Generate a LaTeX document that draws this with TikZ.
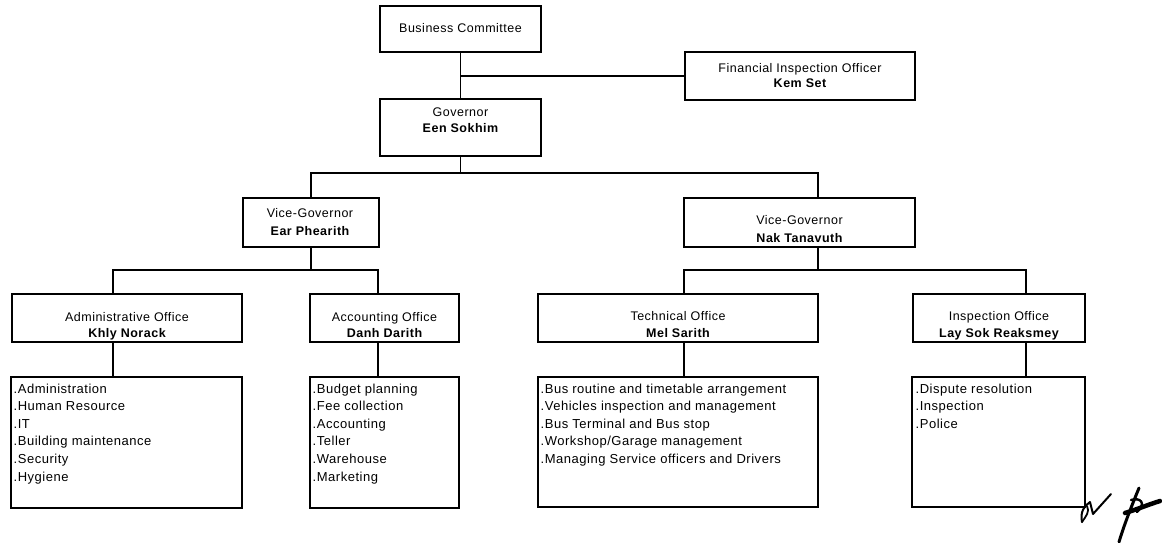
\documentclass[tikz,border=0pt]{standalone}
\usepackage{fontspec}
\setmainfont{Liberation Sans}[LetterSpace=4]
\begin{document}
\begin{tikzpicture}[x=1pt,y=-1pt,line width=1.4pt,
  box/.style={draw,line width=1.4pt,inner sep=0pt,outer sep=0pt,anchor=north west},
  hd/.style={font=\fontsize{12.5}{15}\selectfont,anchor=base,inner sep=0pt},
  nm/.style={font=\fontsize{12.5}{15}\selectfont\bfseries,anchor=base,inner sep=0pt},
  lst/.style={font=\fontsize{13}{17.6}\selectfont,align=left,anchor=north west,inner sep=0pt},
  sig/.style={line width=2.6pt,line cap=round,line join=round}]
\useasboundingbox[fill=white] (0,0) rectangle (1162,542);
% boxes
\node[box,minimum width=161pt,minimum height=46pt] (bc) at (380,6) {};
\node[box,minimum width=230pt,minimum height=48pt] (fin) at (685,52) {};
\node[box,minimum width=161pt,minimum height=57pt] (gov) at (380,99) {};
\node[box,minimum width=136pt,minimum height=49pt] (vg1) at (243,198) {};
\node[box,minimum width=231pt,minimum height=49pt] (vg2) at (684,198) {};
\node[box,minimum width=230pt,minimum height=48pt] (adm) at (12,294) {};
\node[box,minimum width=149pt,minimum height=48pt] (acc) at (310,294) {};
\node[box,minimum width=280pt,minimum height=48pt] (tec) at (538,294) {};
\node[box,minimum width=172pt,minimum height=48pt] (ins) at (913,294) {};
\node[box,minimum width=231pt,minimum height=131pt] (admL) at (11,377) {};
\node[box,minimum width=149pt,minimum height=131pt] (accL) at (310,377) {};
\node[box,minimum width=280pt,minimum height=130pt] (tecL) at (538,377) {};
\node[box,minimum width=173pt,minimum height=130pt] (insL) at (912,377) {};
% header texts
\node[hd] (bc-t) at (460.5,32.5) {Business Committee};
\node[hd] (fin-t) at (800,72.5) {Financial Inspection Officer};
\node[nm] (fin-n) at (800,87.5) {Kem Set};
\node[hd] (gov-t) at (460.5,116.5) {Governor};
\node[nm] (gov-n) at (460.5,132.5) {Een Sokhim};
\node[hd] (vg1-t) at (310,217.5) {Vice-Governor};
\node[nm] (vg1-n) at (310,235.5) {Ear Phearith};
\node[hd] (vg2-t) at (799.5,224.5) {Vice-Governor};
\node[nm] (vg2-n) at (799.5,242.5) {Nak Tanavuth};
\node[hd] (adm-t) at (127,321.5) {Administrative Office};
\node[nm] (adm-n) at (127,337.5) {Khly Norack};
\node[hd] (acc-t) at (384.5,321.5) {Accounting Office};
\node[nm] (acc-n) at (384.5,337.5) {Danh Darith};
\node[hd] (tec-t) at (678,320.5) {Technical Office};
\node[nm] (tec-n) at (678,337.5) {Mel Sarith};
\node[hd] (ins-t) at (999,320.5) {Inspection Office};
\node[nm] (ins-n) at (999,337.5) {Lay Sok Reaksmey};
% lists
\node[lst] (admL-t) at (13,383) {.Administration\\.Human Resource\\.IT\\.Building maintenance\\.Security\\.Hygiene};
\node[lst] (accL-t) at (312,383) {.Budget planning\\.Fee collection\\.Accounting\\.Teller\\.Warehouse\\.Marketing};
\node[lst] (tecL-t) at (540,383) {.Bus routine and timetable arrangement\\.Vehicles inspection and management\\.Bus Terminal and Bus stop\\.Workshop/Garage management\\.Managing Service officers and Drivers};
\node[lst] (insL-t) at (915,383) {.Dispute resolution\\.Inspection\\.Police};
% connectors
\coordinate (j1) at (460.5,76);
\coordinate (b1) at (311,173);
\coordinate (b2) at (818,173);
\coordinate (c1) at (113,270);
\coordinate (c2) at (378,270);
\coordinate (d1) at (684,270);
\coordinate (d2) at (1026,270);
\draw (bc) -- (gov);
\draw (j1) -- (fin.west);
\draw (gov.south) -- (gov.south |- b1);
\draw (vg1.north) -- (b1) -- (b2) -- (vg2.north -| b2);
\draw (vg1.south) -- (vg1.south |- c1);
\draw (adm.north -| c1) -- (c1) -- (c2) -- (acc.north -| c2);
\draw (adm.south -| c1) -- (admL.north -| c1);
\draw (acc.south -| c2) -- (accL.north -| c2);
\draw (vg2.south -| b2) -- (b2 |- d1);
\draw (tec.north -| d1) -- (d1) -- (d2) -- (ins.north -| d2);
\draw (tec.south -| d1) -- (tecL.north -| d1);
\draw (ins.south -| d2) -- (insL.north -| d2);
% signature
\draw[sig,line width=2pt] (1082,522) .. controls (1080,512) and (1084,506) .. (1090,502) -- (1093,514) -- (1111,494);
\draw[sig,line width=1.8pt] (1082,522) .. controls (1086,516) and (1090,512) .. (1087,506);
\draw[sig,line width=3pt] (1139,488) .. controls (1132,505) and (1124,525) .. (1119,542);
\draw[sig,line width=4.5pt] (1125,513) .. controls (1138,509) and (1150,504) .. (1160,501);
\draw[sig,line width=2.4pt] (1131,500) .. controls (1140,497) and (1147,503) .. (1137,512);
\end{tikzpicture}
\end{document}
